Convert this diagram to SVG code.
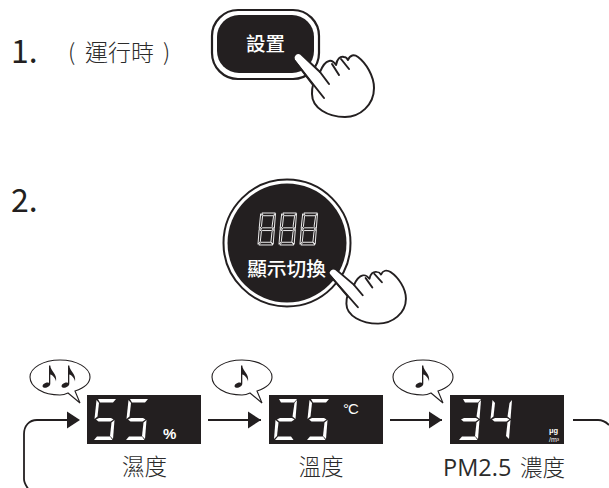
<svg xmlns="http://www.w3.org/2000/svg" width="609" height="488" viewBox="0 0 609 488">
<style>
.cjk{font-family:"Noto Sans CJK TC","Noto Sans",sans-serif}
.lab{font-size:22.500px;fill:#2b2b2b;font-weight:300}
.big{font-size:23px}
.latin{font-family:"Open Sans",sans-serif;font-size:23.500px;font-weight:400}
.num{font-size:32px;fill:#231f20;font-weight:400}
.w{fill:#fff}
.panel{fill:#231f20}
.conn{fill:none;stroke:#231f20;stroke-width:1.8}
.bub{fill:#fff;stroke:#231f20;stroke-width:1.100}
.hand{fill:#fff;stroke:#231f20;stroke-width:2;stroke-linecap:round;stroke-linejoin:round}
.crease{fill:none;stroke:#231f20;stroke-width:2;stroke-linecap:round}
</style>
<defs>
<marker id="ah" markerUnits="userSpaceOnUse" markerWidth="14" markerHeight="18" refX="13" refY="9" orient="auto"><path d="M0,0.5L13,9L0,17.5Z" fill="#231f20"/></marker>
<path id="a" d="M5,0L23,0L20,3.5L7,3.5Z"/>
<path id="f" d="M3.5,1L6,4L4.5,17.5L1.5,20Z"/>
<path id="g" d="M3,20.5L6,19L18,19L20.5,20.5L17.5,22.5L5.5,22.5Z"/>
<path id="b" d="M23,1L21.5,20L18.5,17.5L20.5,4Z"/>
<path id="e" d="M1.5,21L4.5,23.5L3,37L0,40Z"/>
<path id="c" d="M21.5,21L20,40L17,37L18.5,23.5Z"/>
<path id="d" d="M1,41L4,37.5L17,37.5L19.5,41Z"/>
<g id="d5"><use href="#a"/><use href="#f"/><use href="#g"/><use href="#c"/><use href="#d"/></g>
<g id="d2"><use href="#a"/><use href="#b"/><use href="#g"/><use href="#e"/><use href="#d"/></g>
<g id="d3"><use href="#a"/><use href="#b"/><use href="#g"/><use href="#c"/><use href="#d"/></g>
<g id="d4"><use href="#f"/><use href="#b"/><use href="#g"/><use href="#c"/></g>
<g id="d8"><use href="#a"/><use href="#f"/><use href="#b"/><use href="#g"/><use href="#e"/><use href="#c"/><use href="#d"/></g>
<g id="handshape">
<path class="hand" d="M294,60C292,56 297,51 301,54L320,72C322,67 325,62 329,61C332,60 334,62 336,65C337,59 340,56 344,57C346,57 347,58 348,60C350,55 354,54 358,57C366,63 374,76 374,88C374,105 360,117 345,117C328,117 312,108 312,94C312,91 312,88 313,85Z"/>
<path class="crease" d="M294,60L324,98M320,72L329,84M332,64L339,75M341,59L349,69"/>
</g>
<path id="note" d="M3,-19.5L4.3,-19.5C4.5,-14 11.5,-11 10,-3.5C9.6,-7 6.5,-10 4.3,-10.5L4.3,-1.5C4.3,1.5 0,3.5 -2.5,2.5C-4.5,1.5 -3,-1.5 0,-2.3C1.2,-2.6 2.3,-2.5 3,-2Z" fill="#231f20"/>
<path id="bubble" d="M38,33L50,43L45,31C54,28 60,23 60,17C60,8 47,0 30,0C13,0 0,8 0,17C0,27 13,35 30,35C33,35 36,34 38,33Z"/>
</defs>

<g id="connectors">
<path class="conn" d="M208,420H261" marker-end="url(#ah)"/>
<path class="conn" d="M390,420H442" marker-end="url(#ah)"/>
<path class="conn" d="M70,420H37C29,420 24,426 24,434V479C24,483 26,486 29,490"/>
<path d="M67,411.500L80,420L67,428.500Z" fill="#231f20"/>
<path class="conn" d="M573,420H598C603,420 606,422 609,425"/>
</g>

<g id="step1">
<text class="cjk num" x="11" y="63">1.</text>
<text class="cjk lab big" x="68" y="61">(</text>
<text class="cjk lab big" x="85" y="61">運行時</text>
<text class="cjk lab big" x="163" y="61">)</text>
</g>
<g id="button-settings">
<rect x="212" y="10" width="107" height="69" rx="26" fill="#fff" stroke="#231f20" stroke-width="2.200"/>
<rect x="217" y="15" width="97" height="58" rx="22" fill="#231f20"/>
<text class="cjk w" x="265.500" y="51" font-size="19.500" font-weight="500" text-anchor="middle">設置</text>
<use href="#handshape"/>
</g>
<g id="step2">
<text class="cjk num" x="11" y="212">2.</text>
</g>
<g id="button-display">
<circle cx="287" cy="243" r="63.500" fill="#fff" stroke="#231f20" stroke-width="2"/>
<circle cx="287" cy="243" r="59.500" fill="#231f20"/>
<g fill="#231f20" stroke="#fff" stroke-width="1.200">
<use href="#d8" transform="translate(258,213) scale(.76,.78)"/>
<use href="#d8" transform="translate(279,213) scale(.76,.78)"/>
<use href="#d8" transform="translate(300,213) scale(.76,.78)"/>
</g>
<text class="cjk w" x="286.500" y="276" font-size="19.700" font-weight="500" text-anchor="middle">顯示切換</text>
<use href="#handshape" transform="translate(332,272) scale(.96,.86) translate(-297,-57)"/>
</g>
<g id="humidity">
<rect class="panel" x="87" y="395" width="114" height="49"/>
<g class="w"><use href="#d5" transform="translate(93,399)"/><use href="#d5" transform="translate(125,399)"/></g>
<text class="w" x="163" y="439" font-size="15" font-weight="700" font-family="Liberation Sans,sans-serif">%</text>
<text class="cjk lab" x="144.500" y="475" text-anchor="middle">濕度</text>
<use class="bub" href="#bubble" transform="translate(30,360)"/>
<use href="#note" transform="translate(46,385)"/>
<use href="#note" transform="translate(65,385)"/>
</g>
<g id="temperature">
<rect class="panel" x="269" y="395" width="114" height="49"/>
<g class="w"><use href="#d2" transform="translate(274,399)"/><use href="#d5" transform="translate(306,399)"/></g>
<text class="w" x="343" y="414" font-size="15" letter-spacing="-1" font-family="Liberation Sans,sans-serif">°C</text>
<text class="cjk lab" x="321" y="475" text-anchor="middle">溫度</text>
<use class="bub" href="#bubble" transform="translate(212,360)"/>
<use href="#note" transform="translate(238,385)"/>
</g>
<g id="pm25">
<rect class="panel" x="450" y="395" width="114" height="49"/>
<g class="w"><use href="#d3" transform="translate(458,399)"/><use href="#d4" transform="translate(489,399)"/></g>
<text class="w" x="549" y="433" font-size="7.500" font-weight="700" font-family="Liberation Sans,sans-serif">μg</text>
<text class="w" x="549" y="441.500" font-size="7" font-family="Liberation Sans,sans-serif">/m³</text>
<text class="cjk lab" y="476"><tspan class="latin" x="443">PM2.5</tspan> <tspan x="520">濃度</tspan></text>
<use class="bub" href="#bubble" transform="translate(393,360)"/>
<use href="#note" transform="translate(419,385)"/>
</g>
</svg>
